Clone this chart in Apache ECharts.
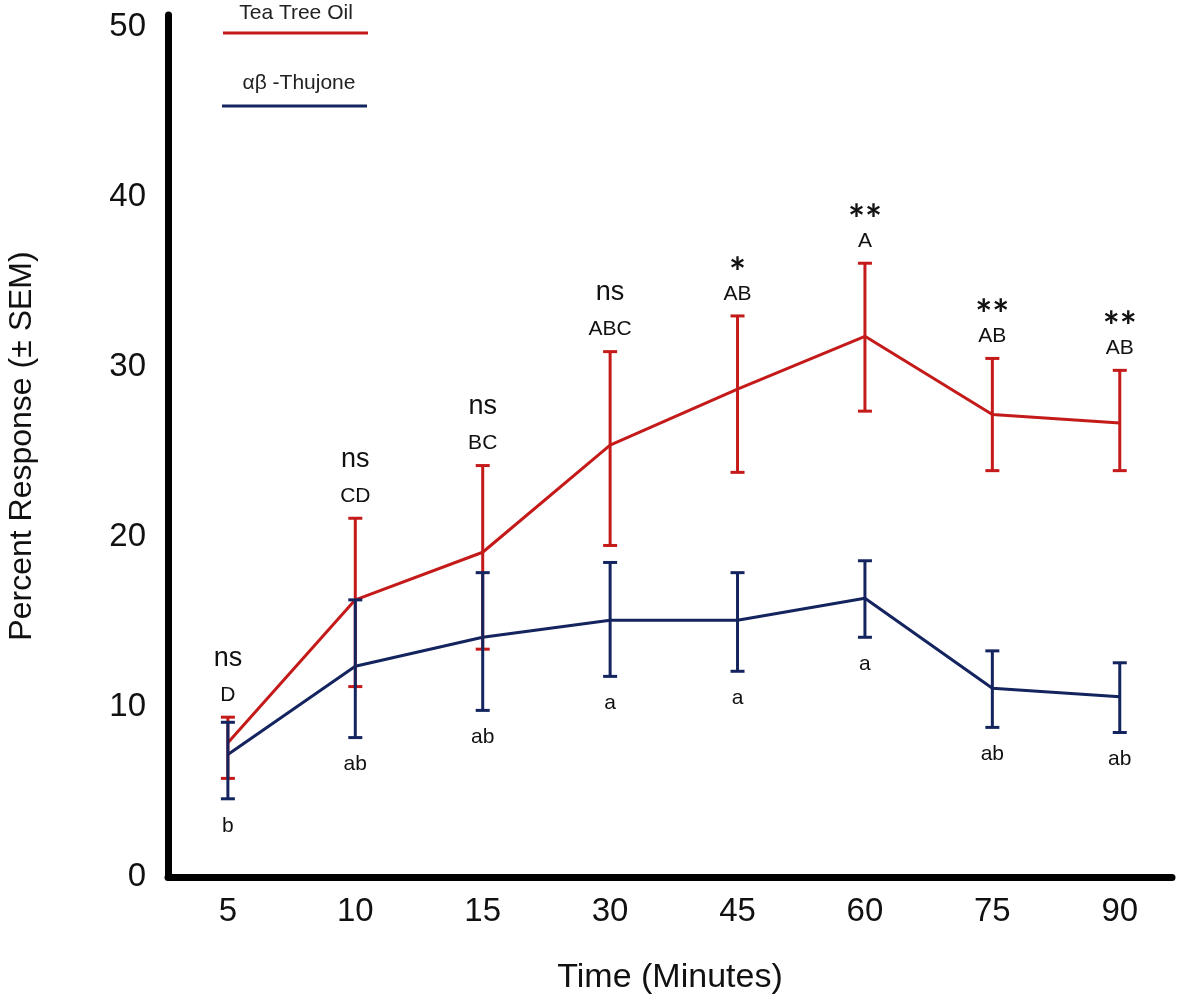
<!DOCTYPE html>
<html>
<head>
<meta charset="utf-8">
<script src="https://cdn.jsdelivr.net/npm/echarts@6/dist/echarts.min.js"></script>
<style>
html,body{margin:0;padding:0;background:#fff;}
#main{width:1181px;height:1001px;}
</style>
</head>
<body>
<div id="main"></div>
<script>
// categories (time, minutes)
var categories = ['5', '10', '15', '30', '45', '60', '75', '90'];

// Tea Tree Oil: mean and SEM bar ends
var teaMean = [7.9, 16.3, 19.1, 25.4, 28.7, 31.8, 27.2, 26.7];
var teaHigh = [9.4, 21.1, 24.2, 30.9, 33.0, 36.1, 30.5, 29.8];
var teaLow  = [5.8, 11.2, 13.4, 19.5, 23.8, 27.4, 23.9, 23.9];

// αβ-Thujone: mean and SEM bar ends
var thuMean = [7.2, 12.4, 14.1, 15.1, 15.1, 16.4, 11.1, 10.6];
var thuHigh = [9.1, 16.3, 17.9, 18.5, 17.9, 18.6, 13.3, 12.6];
var thuLow  = [4.6, 8.2, 9.8, 11.8, 12.1, 14.1, 8.8, 8.5];

// annotations
var teaSig   = ['ns', 'ns', 'ns', 'ns', '*', '**', '**', '**'];
var teaGroup = ['D', 'CD', 'BC', 'ABC', 'AB', 'A', 'AB', 'AB'];
var thuGroup = ['b', 'ab', 'ab', 'a', 'a', 'a', 'ab', 'ab'];

var yTicks = [0, 10, 20, 30, 40, 50];

var RED = '#c41a1a';
var BLUE = '#13245e';
var FONT = '"Liberation Sans", Arial, sans-serif';

var myChart = echarts.init(document.getElementById('main'));

function pts(arr) {
	return arr.map(function (v, i) { return [i, v]; });
}
function bars(lo, hi) {
	return lo.map(function (v, i) { return [i, v, hi[i]]; });
}

// error bar + text labels
function errRender(color, above) {
	return function (params, api) {
		var i = api.value(0);
		var lo = api.coord([i, api.value(1)]);
		var hi = api.coord([i, api.value(2)]);
		var cap = 7;
		var st = { stroke: color, lineWidth: 3 };
		var kids = [
			{ type: 'line', shape: { x1: hi[0], y1: hi[1], x2: lo[0], y2: lo[1] }, style: st },
			{ type: 'line', shape: { x1: hi[0] - cap, y1: hi[1], x2: hi[0] + cap, y2: hi[1] }, style: st },
			{ type: 'line', shape: { x1: lo[0] - cap, y1: lo[1], x2: lo[0] + cap, y2: lo[1] }, style: st }
		];
		if (above) {
			kids.push({ type: 'text', x: hi[0], y: hi[1] - 22, style: {
				text: teaGroup[i], fill: '#111', font: '21px ' + FONT,
				textAlign: 'center', textVerticalAlign: 'middle' } });
			if (teaSig[i] === 'ns') {
				kids.push({ type: 'text', x: hi[0], y: hi[1] - 59, style: {
					text: teaSig[i], fill: '#111', font: '27px ' + FONT,
					textAlign: 'center', textVerticalAlign: 'middle' } });
			} else {
				kids.push({ type: 'text', x: hi[0], y: hi[1] - 42, style: {
					text: teaSig[i], fill: '#111', font: 'bold 40px Lato, sans-serif',
					textAlign: 'center', textVerticalAlign: 'middle' } });
			}
		} else {
			kids.push({ type: 'text', x: lo[0], y: lo[1] + 27, style: {
				text: thuGroup[i], fill: '#111', font: '21px ' + FONT,
				textAlign: 'center', textVerticalAlign: 'middle' } });
		}
		return { type: 'group', children: kids };
	};
}

var option = {
	backgroundColor: '#fff',
	animation: false,
	grid: { left: 168, right: 9, top: 15, bottom: 124, outerBoundsMode: 'none' },
	xAxis: {
		type: 'value',
		min: -0.47,
		max: 7.41,
		name: 'Time (Minutes)',
		nameLocation: 'middle',
		nameGap: 84,
		nameTextStyle: { fontSize: 34, color: '#111', fontFamily: FONT },
		axisLine: { show: true, lineStyle: { color: '#000', width: 7 } },
		axisTick: { show: false },
		splitLine: { show: false },
		axisLabel: {
			customValues: categories.map(function (c, i) { return i; }),
			formatter: function (v) { return categories[Math.round(v)]; },
			fontSize: 33, color: '#111', fontFamily: FONT, margin: 18
		}
	},
	yAxis: {
		type: 'value',
		min: 0,
		max: 50.7,
		name: 'Percent Response (± SEM)',
		nameLocation: 'middle',
		nameGap: 130,
		nameTextStyle: { fontSize: 32, color: '#111', fontFamily: FONT },
		axisLine: { show: true, onZero: false, lineStyle: { color: '#000', width: 7 } },
		axisTick: { show: false },
		splitLine: { show: false },
		axisLabel: {
			customValues: yTicks,
			fontSize: 33, color: '#111', fontFamily: FONT, margin: 22
		}
	},
	graphic: [
		{ type: 'text', x: 296, y: 13, style: { text: 'Tea Tree Oil', fill: '#222', font: '21px ' + FONT, textAlign: 'center', textVerticalAlign: 'middle' } },
		{ type: 'line', shape: { x1: 223, y1: 33, x2: 368, y2: 33 }, style: { stroke: RED, lineWidth: 3 } },
		{ type: 'text', x: 299, y: 83, style: { text: 'αβ -Thujone', fill: '#222', font: '21px ' + FONT, textAlign: 'center', textVerticalAlign: 'middle' } },
		{ type: 'line', shape: { x1: 222, y1: 106, x2: 367, y2: 106 }, style: { stroke: BLUE, lineWidth: 3 } }
	],
	series: [
		{
			name: 'Tea Tree Oil', type: 'line', data: pts(teaMean),
			symbol: 'none', lineStyle: { color: RED, width: 3 }, z: 3
		},
		{
			name: 'αβ -Thujone', type: 'line', data: pts(thuMean),
			symbol: 'none', lineStyle: { color: BLUE, width: 3 }, z: 3
		},
		{
			type: 'custom', data: bars(teaLow, teaHigh),
			renderItem: errRender(RED, true), z: 4
		},
		{
			type: 'custom', data: bars(thuLow, thuHigh),
			renderItem: errRender(BLUE, false), z: 5
		}
	]
};
myChart.setOption(option);
</script>
</body>
</html>
